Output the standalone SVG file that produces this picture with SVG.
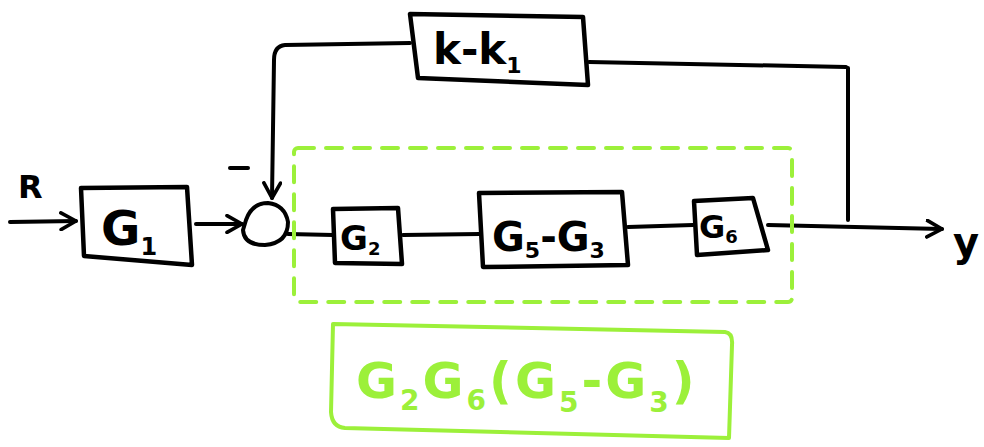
<svg xmlns="http://www.w3.org/2000/svg" width="984" height="447" viewBox="0 0 984 447">
<defs>
<style>
.ln{fill:none;stroke:#000;stroke-width:4;stroke-linecap:round;stroke-linejoin:round}
.bx{fill:#fff;stroke:#000;stroke-width:4.5;stroke-linejoin:round}
.t{font-family:"DejaVu Sans","Liberation Sans",sans-serif;font-weight:bold;fill:#000}
.g{fill:none;stroke:#9cf03a;stroke-width:4;stroke-linecap:round;stroke-linejoin:round}
.gt{font-family:"DejaVu Sans","Liberation Sans",sans-serif;font-weight:bold;fill:#9cf03a}
</style>
<marker id="ah" viewBox="0 0 12 12" refX="10" refY="6" markerWidth="5" markerHeight="5" orient="auto" markerUnits="strokeWidth">
<path d="M1,1 L10,6 L1,11" fill="none" stroke="#000" stroke-width="2.2" stroke-linecap="round" stroke-linejoin="round"/>
</marker>
</defs>
<g id="connectors">
<path class="ln" d="M10,222 L76,221" marker-end="url(#ah)"/>
<path class="ln" d="M196,224 L242,224" marker-end="url(#ah)"/>
<path class="ln" d="M410,43 L285,45 Q274,46 274,60 L272,198" marker-end="url(#ah)"/>
<path class="ln" d="M589,62 L846,67 M848,68 L848,220"/>
<path class="ln" d="M288,234 L333,235"/>
<path class="ln" d="M403,235 L480,234"/>
<path class="ln" d="M628,227 L693,225"/>
<path class="ln" d="M768,225 L942,229" marker-end="url(#ah)"/>
</g>
<g id="R"><text class="t" x="18" y="198" font-size="32">R</text></g>
<g id="minus"><path class="ln" d="M230,168 L248,168"/></g>
<g id="G1">
<path class="bx" d="M81,188 L187,187 L192,265 L84,256 Z"/>
<text class="t" x="101" y="245" font-size="48">G<tspan font-size="24" dy="10">1</tspan></text>
</g>
<g id="sum">
<path class="ln" d="M246,220 Q252,203 268,203 Q285,205 288,222 Q288,243 265,245 Q244,245 243,230 Z" fill="#fff"/>
</g>
<g id="kk1">
<path class="bx" d="M410,14 L583,17 L588,85 L418,78 Z"/>
<text class="t" x="433" y="64" font-size="42">k-k<tspan font-size="22" dy="9">1</tspan></text>
</g>
<g id="G2">
<path class="bx" d="M333,209 L398,208 L402,264 L335,263 Z"/>
<text class="t" x="340" y="250" font-size="34">G<tspan font-size="18" dy="5">2</tspan></text>
</g>
<g id="G5G3">
<path class="bx" d="M479,193 L622,192 L628,265 L483,267 Z"/>
<text class="t" x="492" y="251" font-size="40">G<tspan font-size="22" dy="7">5</tspan><tspan dy="-7">-G</tspan><tspan font-size="22" dy="7">3</tspan></text>
</g>
<g id="G6">
<path class="bx" d="M694,201 L753,198 L768,250 L697,255 Z"/>
<text class="t" x="699" y="238" font-size="32">G<tspan font-size="18" dy="5">6</tspan></text>
</g>
<g id="Y"><text class="t" x="953" y="256" font-size="40">y</text></g>
<g id="group"><rect class="g" x="294" y="148" width="498" height="154" rx="4" stroke-dasharray="16,12" stroke-width="2.5"/></g>
<g id="result">
<path class="g" d="M333,324 L725,332 Q733,333 732,345 L729,438 L345,428 Q332,427 331,412 Z"/>
<text class="gt" x="356" y="398" font-size="50" letter-spacing="3">G<tspan font-size="28" dy="12">2</tspan><tspan dy="-12">G</tspan><tspan font-size="28" dy="12">6</tspan><tspan dy="-12">(G</tspan><tspan font-size="28" dy="14">5</tspan><tspan dy="-14">-G</tspan><tspan font-size="28" dy="14">3</tspan><tspan dy="-14">)</tspan></text>
</g>
</svg>
